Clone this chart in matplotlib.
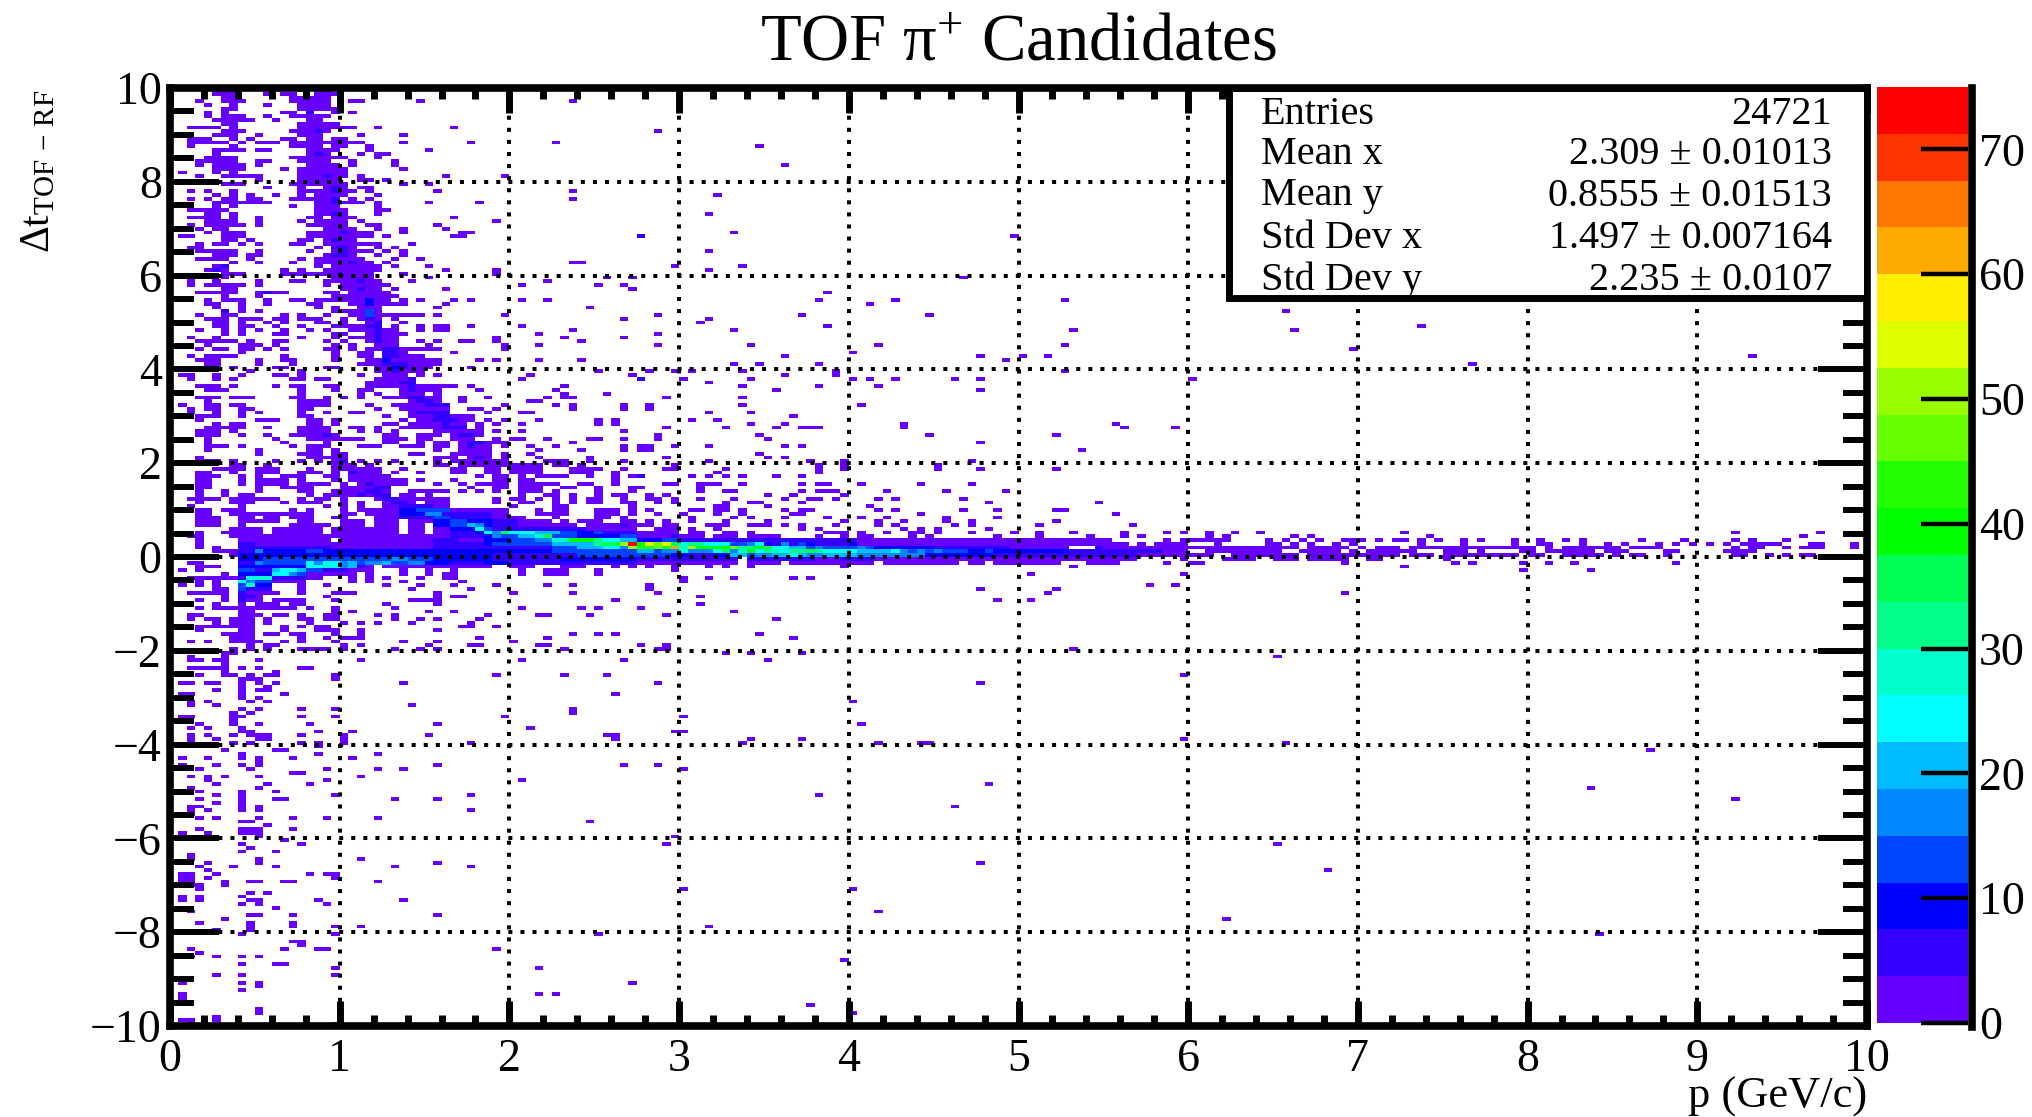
#!/usr/bin/env python3
"""TOF pi+ candidates: delta t (TOF - RF) against momentum, read off the picture."""

import matplotlib
matplotlib.use("Agg")
import matplotlib.pyplot as plt
from matplotlib.colors import ListedColormap, Normalize
from matplotlib.lines import Line2D
from matplotlib.patches import Rectangle
from matplotlib.ticker import MultipleLocator

W_PX = 2033
H_PX = 1117
AX_L, AX_R, AX_T, AX_B = 170, 1867, 88, 1026

TICK_SIZE = 33
STAT_SIZE = 29

N_P_BINS = 200
N_DT_BINS = 250

# bottom colour first, one per 3.75 counts
palette = ["#6600ff", "#3300ff", "#0000ff", "#0044ff", "#0088ff", "#00bbff", "#00ffff",
           "#00ffcc", "#00ff88", "#00ff55", "#00ff00", "#22ff00", "#66ff00", "#99ff00",
           "#ddff00", "#ffee00", "#ffaa00", "#ff7700", "#ff3300", "#ff0000"]

# {row from the top: "first-last:count ..."} in p columns, count 2 if not given
left_rows = {
    0: "5-7 15 17-18", 1: "5-7 11 13-14 17-19", 2: "6-7 14-18", 3: "3 6-7 8 14-18 21-22 29 47",
    4: "4 7 11 15-18", 5: "6-7 15-19", 6: "4 6 13-14 16:5 19 21", 7: "4 6-8 11 14-18",
    8: "5-7 8-9 12 16-17", 9: "6-7 15-18 19", 10: "2-5 7 15-21 24 33", 11: "6-8 14-15 16 17:5 18",
    12: "5-7 10 15-17 22 27", 13: "2-4 7 9 13-14 16-17 19 20", 14: "2-3 4-6 8 10-12 14-20 21-22 27 35 45",
    15: "2 7 14-17 19-20 23", 16: "5-8 10-11 16-19 23 30", 17: "5 16 17:5 18 22 24-25",
    18: "4-7 14 15-20 24", 19: "3-7 10-11 15-18 21 26", 20: "3 5-7 8 10 16-19 21 26",
    21: "5-8 13 15-20 27", 22: "1 5 7 15 16-19 20", 23: "3 6-8 9-10 15-17 18:5 19 20 22 32 39",
    24: "10 15-19 22-23 25", 25: "6-7 8 14-20 27 30", 26: "11 15 18 19:5 20 22-23",
    27: "2 4 7 15 16-18 19:5 20 21 23 31 47", 28: "5 7 9 12 15 17-20 24",
    29: "2 4 6-7 9-10 14-15 16-18 19:5 21 23 47", 30: "5-8 9-11 17-18 19:5 20 21-22 24 30 36",
    31: "5 7 14 17-19 24", 32: "2-4 5-6 17-19 20 24-25", 33: "4-5 7 17-18 19:5 20 24",
    34: "2-4 5 7 10 16-17 19-20 21 33", 35: "4-7 10 15 17-20 22 38", 36: "2 4-8 10 16-19 20 23-24 31",
    37: "3 5-6 18-21 24 27 32", 38: "4 6-8 16-19 20:5 21-23 27 34 35", 39: "1-2 6-8 16-20 21-23 25 33-34 55",
    40: "6-7 9 15-16 18 19:5 20-21", 41: "3 5-6 8 10 14 15 18-24 28", 42: "2-3 17 19:5 20:5 21 24 26",
    43: "3-7 10 16 19 20:5 21-23 25 27", 44: "5-7 9 10 18 19:5 20:5 21 24 27",
    45: "3-6 9 15 17-22 26 29", 46: "7 10 14 17-20 21:5 22-23 25 47-48", 47: "5 6:5 17 19-24 26 30",
    48: "4 5:5 6 13 15 18-23 24 32 38", 49: "6-8 13-15 16-23 27 38", 50: "6 19-23 30 51 54",
    51: "2 5 10 14-15 18 19-21 22:5 23-24 28 44", 52: "2 4-8 10 18 20-24 25 41 50 53",
    53: "6-7 20 21 22:5 23 24 26 32 54", 54: "3-7 10 11:5 12 13 18 19 21-24 25", 55: "6 10 19-20 21-24 25-26",
    56: "4 6-8 11 14 15 17-19 20 21-22 23:9 24-25 27 29 33 35 41 44", 57: "4-5 8 11 16-17 21-22 23:9 24-27 32",
    58: "5 8 17 19 22-24 31 49", 59: "6:5 8 10 19-20 21-22 23:13 24", 60: "3 6-7 13 15 18 21-22 23:13 24-26 27-29 31 39",
    61: "4-6 8 9 10 12-13 15 16-17 20 22 23:5 24 26 53", 62: "5-6 8 11 13 17-18 20 23 24:5 27",
    63: "5-6 8 9 12 15 19-22 23-24:5 26 29 31-32 35 41", 64: "3 6 8 10 13 16 18 21-22 23 24:5 25-26 29 31-32 47",
    65: "6 8 12-13 19-20 23 24:5 25-27 43", 66: "2 5 15 19 21-23 24:5 25-26 38 46 53",
    67: "3-7 9 12-13 18 20 23 24:5 25-26 29 31 34-35 38 48", 68: "4 8 9 10 12 19 21 24-26 30 39 43",
    69: "3 5-6 8 9 11 13 18 19 21 23-24 25:5 26:5 27-31 39", 70: "8 19 22-23 25:5 26:5 27 33",
    71: "2 4-7 13 19 22-23 25:5 26:5 27-29", 72: "3-5 10 13-14 19 23-24 25:9 26-31 36 38 43 48",
    73: "4 5 10 14 22-24 25:5 26:5 27:5 28-31", 74: "3-5 7 12-13 18 19 24 25 26:9 27:5 28-30 35",
    75: "9 15 24-25 26:5 27-29 50", 76: "1-2 5 8 12-13 15 22 25-27 29 31 42 54",
    77: "2 5 7 14 15 17-18 24-27 28:5 41 55", 78: "23-25 26 27:5 28:5", 79: "3-5 7 12 14-15 18 19 23-27 28:5 29-30 31-33 35 46",
    80: "4-6 15 19 22-23 27 28:5 29-30 31 36 45", 81: "15 22 24 27-29 31 46 51",
    82: "3-5 7-8 9 14-15 18 20 22 25-26 27 28:5 29:5 30-31 34 37 44 46-47", 83: "4 15-16 17-18 28 29:5 30:5 31 34 42-43",
    84: "1 4-5 7-8 15-16 17-18 23 26-29 30:5 31:5 32:5 39 45 47 53", 85: "2 4-5 8-9 15-16 24 27-32 35-36 38 47 53 56",
    86: "2 5 8 10 15 18 21-22 28 29:5 30:5 31:5 32:5 37 41-42", 87: "3-5 8 15-16 25 28-30 31:5 32:5 33-35",
    88: "3 10-12 16-17 19 27 29-30 31:5 32:5 33:5 34-35 37 39 43 50 52", 89: "5 7-8 16-17 19 25-26 28-31 32:5 33-34 36 38 41 50 52",
    90: "4-8 11 15-18 21-22 24 27-31 32:5 33:5 34:5 36", 91: "3-5 7 15-18 22 24 26 31-36 38 41 53",
    92: "3-5 8 11 14-15 16-17 18:5 19 25-26 29-31 33 34:5 35:5 36", 93: "4 12 16-22 25-27 29-30 33-35 38 40-41 44 49-50 53",
    94: "4 13 18 25-26 29 31-32 34 35:5 36:5 37-38 39 47", 95: "4-6 8 14 16-18 22-23 24 27-29 31-32 34 35:5 36-37 39 42 45 53 55",
    96: "4 10 16-17 19 31 34-37 43 48 53 55 56", 97: "10 15 16-17 19-20 28-29 33 34-37 39 42",
    98: "3 16-18 19-20 31-33 35 36:5 37 39 43 49", 99: "3 4-5 7 12 15 17 19 20:5 22 24 26 31 33-38 39 44-46 49 53",
    100: "7-8 11 19-21 23 31-32 34-39 40-43 45-46 48", 101: "5-8 10-12 16 19-24 27 33-34 37-38 40-43 47-50 53",
    102: "3-4 7 10 11-12 15-17 19 21:5 22-24 26 29 33-34 37-38 40-43 47-49 52",
    103: "3-5 8 10 13-15 18-19 21-25 36 38-39 41 43 44-46 49 52 54-55",
    104: "3-4 8 10 11-13 15 19 21 22-27 29 33 38-39 41-42 52", 105: "3-4 8 10-13 15-18 20 22 23:5 24 25-27 31 34 36-37 38-39 41-45 48-49 52",
    106: "3-4 10 13-15 16 20-22 23 24:5 25:5 35 38-39 41-43 46-47 50 54-55", 107: "3 6 10 15 16 19 20-22 23:5 24:5 25 28-31 32 34 36 38 41-43 45 50 54",
    108: "3 6 8-9 16 18-19 20-21 22:5 23 24:5 25:5 27-28 30 41 44 45 47 50 52 53",
    109: "2-5 7-9 10-12 15 17-18 20 24 25:5 26:5 27-32 38 40-41 43 45 47 49-50 53",
    110: "3 7-9 13 15 16-17 20 22 25 26:5 27:5 28 30-32 38 41-42 45 47 49-50 53 54",
    111: "2 8 18 20 22 25-26 27:5 28:5 29:5 30:5 31-32 40 45-46 54",
}

band_rows = {
    112: "3-4 6-8 14 16 20 22-26 27-28:9 29-32:13 33-37 38-39 43 45-46 50-52 54",
    113: "3-4 7-15 16 20-21 23-26 27-29:9 30-31:17 32-37:5 38-39 43-44 45-46 50-52 54",
    114: "3-5 8-9 11-12 14-16 19-20 24-26 27-30:5 31-32:13 33-37:5 38-39 40-41 45 50-51 53",
    115: "3-5 8-9 10-12 15-16 20-22 24-26 28-30 31-32:9 33-34:13 35-37:9 38-40:5 41-44 46 48-50 53-54",
    116: "3-5 8 14-18 20-22 24-26 28-29 31-32:9 33-34:13 35:20 36:17 37:9 38-40:5 41-44 45-47 49-52 53:5 54",
    117: "7-10 12-17 19-20 21-26 28-29 31-32 33-35:9 36:24 37:13 38-48:5 49-54",
    118: "3 6-10 12-17 19-23 24-26 28-29 31-32 33-35:5 36:9 37:24 38:17 39:36 40-42:24 43-45:20 46-47:13 48-49:9 50:13 51-54:5",
    119: "2-3 7-18 19-30 31-32 33-36:5 37:9 38:17 39-40:13 41-42:20 43:28 44:36 45:13 46-47:13 48-49:9 50:9 51-52:9 53-54:13",
    120: "3 8-18 20-30 31-33:5 34-36 37:9 38-39:9 40-42:13 43-44:17 45-46:28 47-49:39 50:32 51-52:24 53-54:20",
    121: "3 8-9:5 10-18 19-30 31-36:5 37:9 38-44:13 45-49:20 50:32 51-52:36 53:51 54:74",
    122: "3 5 8-10:5 11-18:5 19-30 31-36:5 37-44:5 45-47:13 48-50:20 51-52:24 53:17 54:51",
    123: "5-7 8-9:5 10:17 11-15:9 16-17:13 18-22:9 23-30:9 31-36:9 37-44:9 45-54:13",
    124: "7 8-37:9 38-47:5 48-54:13",
    125: "8-10:9 11-16:13 17-25:13 26-27:17 28-30:13 31-37:9 38-45:5 46-54:9",
    126: "2-3 8-9:5 10:17 11-15:13 16:24 17:17 18-19:24 20:17 21:20 22:13 23-24:17 25:20 26-27:13 28-29:17 30-32:9 33-36:5 37-39:9 40-54:5",
    127: "3-5 8-9:9 10-15:9 16-17:24 18:28 19:24 20:17 21:20 22:5 23 25-28 29-36 37 40-42 46-48 52 54",
    128: "1 3 8-9:13 10-11:5 12:20 13-14:24 15:20 16-17:13 18-20:5 21-22 23 27 30 33 41 44-46 50",
    129: "6 8-9:9 10-11:9 12-13:24 14:17 15:13 16-21 23 27 30 32-33 41 44-46 50",
    130: "2-3 4-7 8:5 9:24 10-11:28 12-15:5 16-17 21 23 25 29 32-33",
    131: "3 5 8:24 9:17 10-11:13 12-15 21 23 27 34",
    132: "1 3 5 8:13 9:28 10-11:9 15 18 25 29 33 38 44 47 56",
    133: "5-6 8:13 9-11:5 15 28 35",
    134: "2-6 8:5 9 10-12 15 19-21 31 40 47",
    135: "6 8-9:5 10 18 31 33-34",
}

low_rows = {
    136: "3 6 8:5 9-10 12-15 19 28-31 52", 137: "5 8 10 11-12 14 15 25 31", 138: "3 5-14 16 19 26 41 48 50 55",
    139: "8-9 19 21 30 33", 140: "2-3 8-10 12-13 15 18-19 24 26 37 43 44 49", 141: "2 4-5 7 8-9 11 15 16 18-19 26 29 31 36",
    142: "5 7 8-9 11 16 20 22 24 28 35", 143: "3-9 13 15 17-18 34-35 38", 144: "3 8-9 13 17-18 19 22 31",
    145: "6-9 11-12 14-15 19 22 47 50 52", 146: "7-9 15 18 20-22 36 44", 147: "2 4 7-10 13 15 19 27 31 40",
    148: "9 11-12 20 22 30 35 36 43 44 55", 149: "7 9 11 15-18 20 26 29 31 46", 150: "6-7",
    151: "2 6", 152: "2-3 5-6 10 22 41 53", 153: "6", 154: "2-6 8 10 15 16", 155: "6 12",
    156: "3 6-7 9 11-12 19 38 46 51", 157: "8 9-10 19", 158: "1-2 4-5 8 10 12 27", 159: "8 11",
    160: "5 8 10-11", 161: "1-2 8 13 52", 162: "8 10", 163: "2 4 9 11", 164: "2 5 28", 165: "8 10 15 19 47",
    166: "7 9 47", 167: "1-2 7 8 15 19 39", 168: "7", 169: "3 7 10 16 31", 170: "2 4 8 42", 171: "8-9 17 21",
    172: "2 4 7 9-10 11 15 20 30 51-52", 173: "2 5 10-11 20 52", 174: "2 7 9 15 17 20 35", 175: "17",
    176: "6 12 13", 177: "8 17 24", 178: "1 4 8 10 14 21", 179: "10", 180: "1 5 8 10 31 53", 181: "3 9 18 24 27",
    182: "14 15", 183: "2 4 6 10 22", 184: "4 18 41", 185: "5 11 16", 186: "2 10", 187: "1 3 8 12", 188: "5 8 19 35",
    189: "3 8 12-13 26 31", 190: "5 8", 191: "2-3 8 10", 192: "2 4 8 10 35", 193: "1-2", 194: "3 5 10 14 18 24",
    195: "8 9 49", 196: "11", 197: "3 8-9 10 14", 198: "1 4 8-10", 199: "2 10", 200: "13", 201: "8 15", 202: "9",
    203: "8 12", 204: "2", 205: "2 10 22", 206: "4 10 31", 207: "3 7 12 26 35", 208: "4", 209: "1-2 5 16 18 19",
    210: "1-2 4 19", 211: "1-2 6 9-10 13-14 24", 212: "2-3 6", 213: "3", 214: "9 11", 215: "1 3 8", 216: "1 3 9-10 17 27",
    217: "8 10 18", 218: "12", 219: "2", 220: "9-10 14 31", 221: "6", 222: "3 9 14", 223: "9 14 19 22", 224: "5 9",
    225: "8 19 50", 227: "14-15", 228: "15", 229: "2 13 17-18 38", 230: "3", 231: "2 5 8 10", 233: "8 12-13",
    234: "19 43", 236: "5 8 19", 238: "1 8 10 54", 239: "10", 240: "8", 241: "1 43 45", 242: "1", 245: "10",
    246: "10", 247: "5", 248: "1-2 5", 249: "2 19",
}

# columns past p = 2.75, the long tail of the band
tail_rows = {
    89: "111", 90: "58 65 71 74 76 86", 92: "57 69 89 104", 93: "57 70", 94: "95", 95: "56 59 63 72 74",
    96: "107", 97: "69", 98: "58 70 72", 99: "63 75 79 94", 100: "59 76 79 90", 101: "58-59 65 76 79 90 95 104",
    102: "64 76", 103: "55 61 63 65 67 71 74", 105: "58-59 62 63-64 67 74 76 77 81 88 94", 106: "62",
    107: "62 65 66 74 76-78 84 91 98", 108: "56 58 70 73 79", 109: "56-57 59 62 66 72 75 76 78 83 85 93",
    110: "57 59 65 68 69 74 96 109", 111: "64 65 70 82", 112: "56 61 62 64-65 67 72 74 75 83 85 93 97 104 105",
    113: "57 60 64 67 73 74 88 111", 114: "61 66 68 72 77 81 84 91 97", 115: "56 58 61 65 70 79 83 86 91 94 104",
    116: "55-56 58-59 63-65 68-70 72 74 78 83 85 92 94 102 113", 117: "57-59 61 64 74 76 86 88 90 96",
    118: "55-57 58-59 61-62 65 66 68 77-79 81 84 87 88 90 94 99 102 106 112 117 119 122 125 128 145 184 194",
    119: "55-58 59:5 60 61-62 64 65-66 68-70 71 76 79 81 82 87 89 97 102 108 112 114 122 124 132 134 148 192",
    120: "55-57:9 58-59:13 60-66:5 67-70:5 71-80:5 81-110 117 119 120 121 122 123 124 129 131 133 135 138 139 140 142 144 145 147 149 152 154 158 161 164 166 173 178 184 186 190",
    121: "55:39 56:54 57:47 58:54 59:36 60:28 61-62:32 63-65:24 66-67:13 68:17 69:24 70:9 71:5 72:17 73:5 74:13 75:9 76-79:5 80:9 81-112 114 116-119 123 129 130 132 134 137 139 147 152 158 161 162 166 169 171 175 177 179 181 183 185-189 193 194 198",
    122: "55-56:43 57:47 58:43 59:62 60:28 61:51 62-65:39 66:47 67-68:32 69:39 70:36 71-72:24 73-74:20 75:13 76:17 77-80:13 81:17 82:13 83-89:9 90-98:5 99-105 109:5 110-119 120-127 128-132 134-138 140 142-144 146-153 154-160 162 164-170 172-175 184 186-187 190 192-194 198",
    123: "55-56:20 57:13 58-59:17 60:28 61-63:17 64:24 65:36 66:17 67:28 68:39 69:24 70:32 71:28 72:24 73-74:32 75:36 76:32 77-80:24 81-84:20 85:24 86:17 87:13 88:17 89:13 90:17 91-93:13 94-95:9 96:13 97-105:9 106-115:5 116:5 117-119 122-130 133-137 139 141-146 150-152 154 159-160 162-167 169-171 176-177 183 184-186",
    124: "55-58:13 59-60:9 61-63:5 64-65:9 66-67:20 68:13 69-70:17 71-72:20 73:24 74:20 75-76:17 77-80:20 81-88:17 89-96:9 97-113:5 114-122 125-132 134-144 146-148 150-158 160-161 164-168 170 172 173 176 184 185 188 190 192-193",
    125: "55-66:5 68-75:5 76-78 79-82:5 83-113 119 124-127 130-132 134-138 141 142 150",
    126: "55-66 68-71 73-75 76-78 79-82 84-86 87-91 92 94-95 97-100 101-104 108-111 117 120-121 138 151 153 159 162 165 177",
    127: "56 59 63 65 68 79 106 145", 128: "59 159 167", 129: "101 119", 130: "60 63 66 73 75", 131: "60",
    132: "115 118", 133: "56 95 104", 134: "57 103 138", 135: "62", 136: "97 101", 137: "62", 139: "66",
    140: "58", 141: "71", 145: "69", 146: "73", 148: "58", 149: "57 58 106", 150: "65 68 74", 151: "130",
}

# lone cells away from everything else
lone_col = [57, 69, 72, 64, 63, 66, 55, 99, 63, 59, 67, 63, 93, 77, 76, 82, 85, 105, 57, 74, 89, 63, 62, 77,
            66, 106, 57, 57, 68, 83, 105, 80, 72, 95, 100, 103, 98, 66, 69, 76, 56, 59, 61, 67, 78, 105, 78, 72,
            55, 60, 68, 80, 82, 85, 92, 95, 120, 63, 67, 76, 83, 71, 95, 58, 67, 56, 67, 81, 63, 68, 73, 61, 64,
            68, 72, 86, 75, 112, 118, 131, 132, 139, 147, 153, 186, 70, 57, 95, 119, 80, 60, 81, 59, 60, 67, 68,
            74, 83, 88, 89, 119, 131, 174, 57, 60, 96, 167, 76, 184, 92, 59, 58, 130, 95, 136, 60, 80, 83, 124,
            63, 168, 79, 75, 80]
lone_row = [11, 15, 20, 28, 33, 38, 39, 39, 43, 47, 47, 48, 50, 54, 56, 57, 56, 56, 60, 60, 60, 61, 62, 63,
            64, 64, 65, 68, 68, 68, 68, 70, 71, 71, 71, 71, 72, 73, 73, 73, 75, 75, 75, 75, 75, 75, 76, 76,
            77, 77, 77, 77, 77, 77, 77, 77, 77, 78, 79, 79, 79, 80, 80, 82, 82, 84, 84, 84, 86, 86, 87, 88, 88,
            89, 89, 89, 90, 90, 90, 59, 64, 69, 63, 73, 71, 152, 158, 158, 156, 163, 167, 169, 171, 171, 174, 173,
            173, 174, 174, 174, 173, 174, 176, 180, 181, 185, 186, 188, 189, 191, 199, 201, 201, 206, 208, 213, 213, 219, 221,
            223, 225, 232, 244, 246]

cbar_ticks = [0, 10, 20, 30, 40, 50, 60, 70]

stat_names = ["Entries", "Mean x", "Mean y", "Std Dev x", "Std Dev y"]
stat_values = ["24721", "2.309 ± 0.01013", "0.8555 ± 0.01513", "1.497 ± 0.007164", "2.235 ± 0.0107"]
stat_y_px = [115, 155, 196, 238, 280]


def read_cells(rows):
    cols, rws, counts = [], [], []
    for row, text in rows.items():
        for token in text.split():
            span, _, count = token.partition(":")
            first, _, last = span.partition("-")
            for col in range(int(first), int(last or first) + 1):
                cols.append(col)
                rws.append(row)
                counts.append(int(count or 2))
    return cols, rws, counts


def fx(px):
    return px / W_PX


def fy(px):
    return 1 - px / H_PX


def main():
    plt.rcParams["font.family"] = ["Liberation Serif", "DejaVu Serif"]
    plt.rcParams["mathtext.fontset"] = "custom"
    plt.rcParams["mathtext.rm"] = "Liberation Serif"
    plt.rcParams["mathtext.it"] = "Liberation Serif"
    plt.rcParams["mathtext.default"] = "rm"

    cols, rws, counts = [], [], []
    for rows in (left_rows, band_rows, low_rows, tail_rows):
        c, r, n = read_cells(rows)
        cols += c
        rws += r
        counts += n
    cols += lone_col
    rws += lone_row
    counts += [2] * len(lone_col)

    p = [0.025 + 0.05 * c for c in cols]
    dt = [10 - 0.08 * (r + 0.5) for r in rws]

    fig = plt.figure(figsize=(W_PX / 100, H_PX / 100), dpi=100)
    ax = fig.add_axes([fx(AX_L), fy(AX_B), fx(AX_R - AX_L), (AX_B - AX_T) / H_PX])

    cmap = ListedColormap(palette)
    norm = Normalize(0, 75)
    _, _, _, mesh = ax.hist2d(p, dt, bins=[N_P_BINS, N_DT_BINS], range=[[0, 10], [-10, 10]],
                              weights=counts, cmin=0.5, cmap=cmap, norm=norm)

    ax.set_xlim(0, 10)
    ax.set_ylim(-10, 10)
    ax.xaxis.set_major_locator(MultipleLocator(1))
    ax.xaxis.set_minor_locator(MultipleLocator(0.2))
    ax.yaxis.set_major_locator(MultipleLocator(2))
    ax.yaxis.set_minor_locator(MultipleLocator(0.5))
    ax.set_axisbelow(False)
    ax.grid(True, which="major", color="black", linewidth=2.9, linestyle=(0, (1, 2)))

    ax.tick_params(axis="x", which="major", direction="in", top=True, length=18, width=5,
                   labelsize=TICK_SIZE, pad=9)
    ax.tick_params(axis="x", which="minor", direction="in", top=True, length=8, width=5)
    ax.tick_params(axis="y", which="major", direction="in", right=True, length=35, width=4.3,
                   labelsize=TICK_SIZE, pad=6)
    ax.tick_params(axis="y", which="minor", direction="in", right=True, length=17, width=4.3)
    for spine in ax.spines.values():
        spine.set_linewidth(5.5)

    # stats box
    box_x = (1229 - AX_L) / (AX_R - AX_L)
    box_y = 1 - (298 - AX_T) / (AX_B - AX_T)
    ax.add_patch(Rectangle((box_x, box_y), 1 - box_x, 1 - box_y, transform=ax.transAxes,
                           facecolor="white", edgecolor="black", linewidth=5, zorder=5))
    for name, value, y in zip(stat_names, stat_values, stat_y_px):
        fig.text(fx(1261), fy(y), name, fontsize=STAT_SIZE, ha="left", va="center", zorder=6)
        fig.text(fx(1832), fy(y), value, fontsize=STAT_SIZE, ha="right", va="center", zorder=6)

    # colour bar
    cax = fig.add_axes([fx(1877), fy(1023), fx(1968 - 1877), (1023 - 87) / H_PX])
    cbar = fig.colorbar(mesh, cax=cax, ticks=cbar_ticks)
    cbar.outline.set_visible(False)
    cax.tick_params(axis="y", direction="in", length=34, width=3.2, labelsize=33, pad=8)
    cax.minorticks_off()
    fig.add_artist(Line2D([fx(1972), fx(1972)], [fy(88), fy(1027)], color="black", linewidth=5.5))

    fig.text(fx(1018), fy(60), r"TOF $\pi^{+}$ Candidates", fontsize=48, ha="center", va="baseline")
    fig.text(fx(1867), fy(1108), "p (GeV/c)", fontsize=32, ha="right", va="baseline")
    fig.text(fx(39), fy(90), r"$\Delta t_{TOF\,-\,RF}$", fontsize=30, rotation=90,
             ha="center", va="top")

    fig.savefig("out.png", dpi=100)
    plt.close(fig)


if __name__ == "__main__":
    main()
